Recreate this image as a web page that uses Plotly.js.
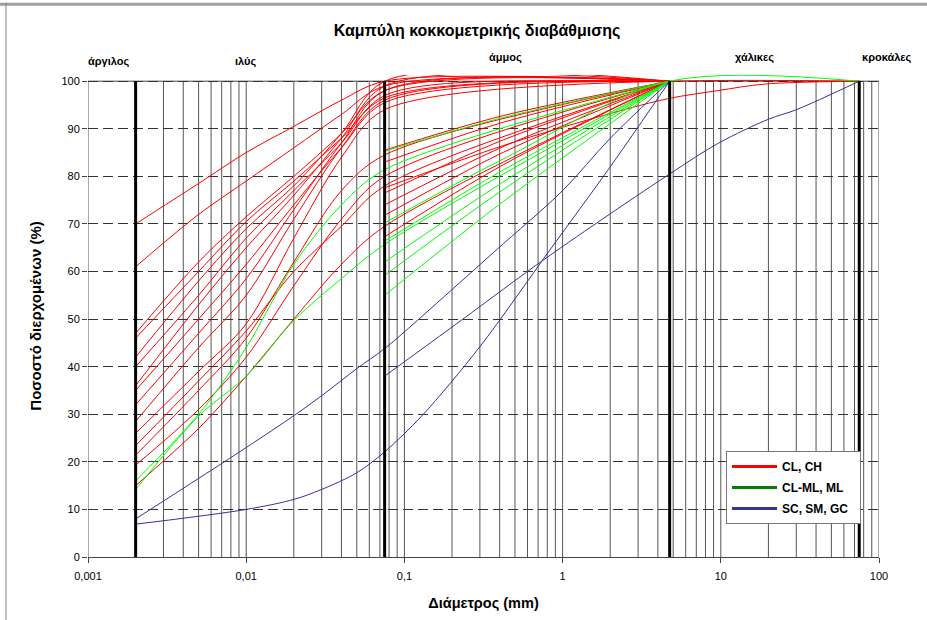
<!DOCTYPE html>
<html><head><meta charset="utf-8">
<script src="https://cdn.plot.ly/plotly-3.0.1.min.js"></script>
<style>html,body{margin:0;padding:0;background:#fff;} #chart{width:927px;height:620px;}</style>
</head><body><div id="chart"></div>
<script>
const FONT = 'Liberation Sans, Arial, sans-serif';

// particle diameters (mm) at which the percent passing was read
const dHydro = [0.002, 0.005, 0.01, 0.02, 0.04, 0.075, 4.75];
const dHydroExt = [0.002, 0.005, 0.01, 0.02, 0.04, 0.075, 4.75, 75];
const dSieve = [0.075, 0.425, 4.75];
const dSieveExt = [0.075, 0.425, 4.75, 75];

// CL, CH  (percent passing)
const redHydro = [
  [70, 78.5, 85, 90.5, 96, 100, 100],
  [61, 72, 79, 86, 93, 99, 100],
  [47, 62, 71.5, 80, 89, 98, 100],
  [46, 60, 70.5, 79, 88, 96.5, 100],
  [42, 58, 69, 78, 89, 100, 100],
  [36, 53, 65, 76, 88, 99, 100],
  [35, 50, 61.5, 74, 86, 95.5, 100],
  [32, 47, 58.5, 73, 87, 98, 100],
  [28.5, 44, 55, 71, 86, 96, 100],
  [26, 39, 49, 67, 84, 94, 100],
  [23.4, 37, 47.5, 60, 69.5, 78, 100],
  [21.4, 35, 46, 62, 77, 84.5, 100],
  [19.3, 31, 42, 57, 71, 80, 100],
  [15, 27, 38, 50, 61.5, 69.5, 100]
];
const redHydroExt = [
  [40, 55, 67, 77, 87, 97, 100, 100]
];
const redSieve = [
  [85.5, 92.8, 100],
  [83, 91.4, 100],
  [76.5, 87.7, 100],
  [74, 86.3, 100],
  [71.8, 85.1, 100],
  [67.3, 82.5, 100]
];
const dRedGravel = [0.075, 0.425, 2, 4.75, 9.5, 19, 75];
const redGravel = [77.6, 86.5, 93.2, 96.4, 98, 99.4, 100];

// CL-ML, ML
const greenHydro = [
  [16, 30, 44, 61.5, 74, 81.4, 100],
  [14.2, 29.6, 38, 49.7, 58.5, 65.7, 100]
];
const greenSieve = [
  [85.3, 92.4, 100],
  [66.4, 81.4, 100],
  [62, 78.9, 100],
  [59.2, 77.3, 100],
  [55, 74.8, 100]
];
const greenSieveExt = [
  [70.2, 83.7, 100, 100]
];

// SC, SM, GC
const dBlueA = [0.002, 0.01, 0.02, 0.03, 0.05, 0.075, 0.2, 0.38, 1, 2, 4.75];
const blueA  = [8, 23, 29.7, 33.9, 39.6, 43.8, 56.2, 64.5, 77, 88, 100];
const dBlueB = [0.075, 0.23, 0.8, 4.75, 9.7, 20, 30, 75];
const blueB  = [38, 49.8, 63, 80.5, 87, 92, 94, 100];
const dBlueC = [0.002, 0.01, 0.02, 0.03, 0.05, 0.075, 0.13, 0.3, 0.83, 2, 4.75];
const blueC  = [6.9, 10, 12.1, 14.2, 17.7, 22.1, 29.8, 44.2, 64.5, 82, 100];

// axes, zones, legend
const axisDiams = [0.001, 0.01, 0.1, 1, 10, 100];
const axisLabels = ['0,001', '0,01', '0,1', '1', '10', '100'];
const yTicks = [0, 10, 20, 30, 40, 50, 60, 70, 80, 90, 100];
const zoneLimits = [0.002, 0.075, 4.75, 75];
const zoneNames = ['άργιλος', 'ιλύς', 'άμμος', 'χάλικες', 'κροκάλες'];
const groupNames = ['CL, CH', 'CL-ML, ML', 'SC, SM, GC'];
const groupLegendColors = ['#ff0000', '#008000', '#333399'];
const groupLineColors = ['#ff0000', '#00ff00', '#333399'];

const traces = [];
function addCurve(xs, ys, color) {
  traces.push({x: xs, y: ys, type: 'scatter', mode: 'lines', showlegend: false, hoverinfo: 'skip',
    line: {color: color, width: 1, shape: 'spline', smoothing: 0.9}});
}
redHydro.forEach(v => addCurve(dHydro, v, groupLineColors[0]));
redHydroExt.forEach(v => addCurve(dHydroExt, v, groupLineColors[0]));
redSieve.forEach(v => addCurve(dSieve, v, groupLineColors[0]));
addCurve(dRedGravel, redGravel, groupLineColors[0]);
greenHydro.forEach(v => addCurve(dHydro, v, groupLineColors[1]));
greenSieve.forEach(v => addCurve(dSieve, v, groupLineColors[1]));
greenSieveExt.forEach(v => addCurve(dSieveExt, v, groupLineColors[1]));
addCurve(dBlueA, blueA, groupLineColors[2]);
addCurve(dBlueB, blueB, groupLineColors[2]);
addCurve(dBlueC, blueC, groupLineColors[2]);
// legend entries
groupNames.forEach((n, i) => traces.push({x: [null], y: [null], type: 'scatter', mode: 'lines',
  name: n + '\u00a0\u00a0', legendgroup: 'g' + i,
  showlegend: true, line: {color: groupLegendColors[i], width: 3}}));

// vertical grid lines (1..9 x each decade)
const shapes = [];
for (let e = -3; e <= 1; e++) {
  for (let m = 1; m <= 9; m++) {
    const d = m * Math.pow(10, e);
    shapes.push({type: 'line', xref: 'x', yref: 'y', x0: d, x1: d, y0: 0, y1: 100,
      line: {color: '#555', width: 1}, layer: 'below'});
  }
}
shapes.push({type: 'line', xref: 'x', yref: 'y', x0: 100, x1: 100, y0: 0, y1: 100, line: {color: '#555', width: 1}, layer: 'below'});
shapes.push({type: 'line', xref: 'x', yref: 'y', x0: 0.001, x1: 100, y0: 100, y1: 100, line: {color: '#444', width: 1}, layer: 'below'});
zoneLimits.forEach(d => shapes.push({type: 'line', xref: 'x', yref: 'y', x0: d, x1: d,
  y0: 0, y1: 100, line: {color: '#000', width: 3}, layer: 'above'}));
// outer chart frame
shapes.push({type: 'line', xref: 'paper', yref: 'paper', x0: -0.2, x1: 1.2, y0: 1.147, y1: 1.147, line: {color: '#a0a0a0', width: 3}});
shapes.push({type: 'line', xref: 'paper', yref: 'paper', x0: -0.1037, x1: -0.1037, y0: -0.3, y1: 1.15, line: {color: '#808080', width: 1}});

const zonePos = [[0.0253, 1.027], [0.1985, 1.027], [0.5284, 1.0373], [0.8432, 1.0373], [1.0101, 1.0373]];
const annotations = zoneNames.map((t, i) => ({text: '<b>' + t + '</b>', xref: 'paper', yref: 'paper',
  x: zonePos[i][0], y: zonePos[i][1], xanchor: 'center', yanchor: 'middle', showarrow: false,
  font: {family: FONT, size: 11, color: '#000'}}));

const layout = {
  width: 927, height: 620,
  margin: {l: 88, r: 48, t: 75, b: 63},
  paper_bgcolor: '#fff', plot_bgcolor: '#fff',
  font: {family: FONT, color: '#000'},
  title: {text: '<b>Καμπύλη κοκκομετρικής διαβάθμισης</b>', font: {family: FONT, size: 16, color: '#000'},
    xref: 'container', yref: 'container', x: 477 / 927, y: 1 - 30 / 620, xanchor: 'center', yanchor: 'middle'},
  xaxis: {type: 'log', range: [-3, 2], tickmode: 'array', tickvals: axisDiams, ticktext: axisLabels,
    ticks: 'outside', ticklen: 5, tickcolor: '#444', showgrid: false, zeroline: false,
    showline: true, linecolor: '#444', linewidth: 1, ticklabelstandoff: 4,
    tickfont: {family: FONT, size: 11, color: '#000'},
    title: {text: '<b>Διάμετρος (mm)</b>', font: {family: FONT, size: 14.5, color: '#000'}, standoff: 16}},
  yaxis: {range: [0, 101.3], tickmode: 'array', tickvals: yTicks, ticks: 'outside', ticklen: 5, tickcolor: '#444',
    showgrid: true, gridcolor: '#333', griddash: '10px,5px', gridwidth: 1, zeroline: false, showline: false,
    tickfont: {family: FONT, size: 11, color: '#000'},
    title: {text: '<b>Ποσοστό διερχομένων (%)</b>', font: {family: FONT, size: 15, color: '#000'}, standoff: 16}},
  legend: {x: 0.8066, y: 0.2199, xanchor: 'left', yanchor: 'top', bgcolor: '#fff', bordercolor: '#777', borderwidth: 1,
    font: {family: FONT, size: 12, color: '#000', weight: 'bold'}, itemwidth: 45, tracegroupgap: 2},
  shapes: shapes,
  annotations: annotations,
  showlegend: true
};

Plotly.newPlot('chart', traces, layout, {displayModeBar: false, staticPlot: true});
</script></body></html>
